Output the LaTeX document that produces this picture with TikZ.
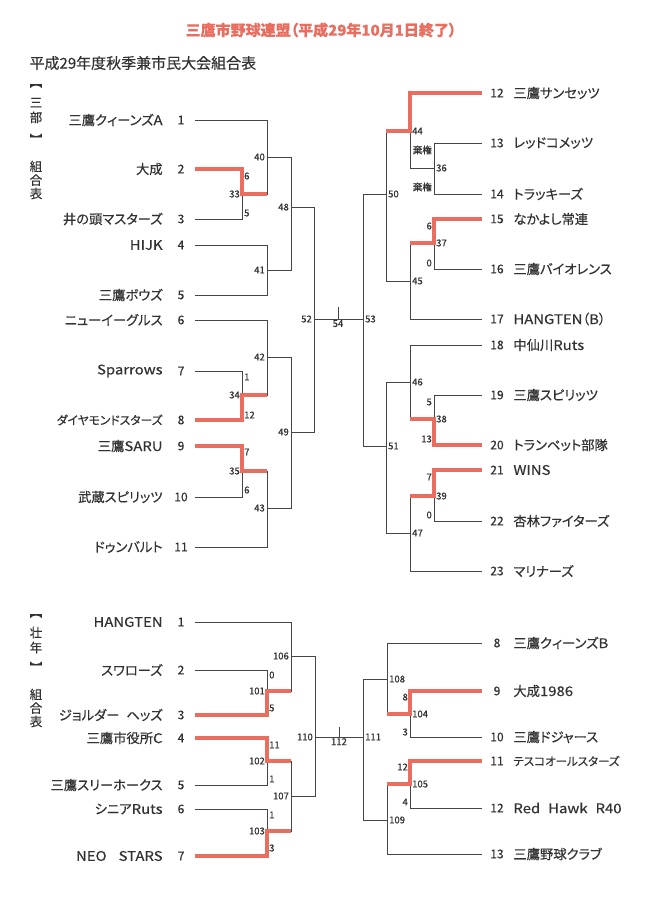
\documentclass[tikz,border=0pt]{standalone}
\usepackage{fontspec}
\setmainfont{Noto Sans CJK JP}[RawFeature=+palt,FakeBold=0.35]
\newfontfamily\latwide{Noto Sans CJK JP}[FakeStretch=1.12,FakeBold=0.35]
\usepackage{tikz}
\usetikzlibrary{positioning}
\definecolor{winred}{RGB}{234,110,96}
\definecolor{linegray}{RGB}{70,70,70}
\definecolor{textgray}{RGB}{50,50,50}

\begin{document}
\begin{tikzpicture}[x=1pt,y=-1pt,
      line/.style={draw=linegray,line width=0.8pt},
      win/.style={draw=winred,line width=3.6pt},
      team/.style={text=textgray,inner sep=0pt,font=\fontsize{13.3}{14}\selectfont},
      num/.style={text=textgray,inner sep=0pt,minimum width=28pt,font=\fontsize{12}{13}\selectfont},
      rnum/.style={num,minimum width=30pt},
      score/.style={text=textgray,inner sep=1pt,font=\fontsize{9.5}{10}\selectfont},
      mlab/.style={score,inner sep=2pt},
      side/.style={text=textgray,align=center,inner sep=0pt,font=\fontsize{12.5}{15}\selectfont}]
      \fill[white] (0,0) rectangle (666,902);
      \useasboundingbox (0,0) rectangle (666,902);

      \node[text=winred,font=\fontsize{15}{16}\selectfont\bfseries] (title) at (321,30) {三鷹市野球連盟（平成29年10月1日終了）};
      \node[anchor=west,text=textgray,font=\fontsize{15}{16}\selectfont] (sub) at (26,63) {平成29年度秋季兼市民大会組合表};

      % side labels
      \node[side] (v_1a) at (36,86) {︻};
      \node[side] (v_1) at (36,110.5) {三\\部};
      \node[side] (v_1b) at (36,139) {︼};
      \node[side,font=\fontsize{12.5}{13.5}\selectfont] (v_2) at (36,180) {組\\合\\表};
      \node[side] (v_3a) at (36,616) {︻};
      \node[side] (v_3) at (36,640) {壮\\年};
      \node[side] (v_3b) at (36,667) {︼};
      \node[side,font=\fontsize{12.5}{13.5}\selectfont] (v_4) at (36,708) {組\\合\\表};

      % teams, upper left
      \node[num] (a_1) at (181,120) {1};  \node[team,left=4pt of a_1] (n_1) {三鷹クィーンズ{\latwide A}};
      \node[num] (a_2) at (181,169) {2};  \node[team,left=4pt of a_2] (n_2) {大成};
      \node[num] (a_3) at (181,219) {3};  \node[team,left=4pt of a_3] (n_3) {井の頭マスターズ};
      \node[num] (a_4) at (181,245) {4};  \node[team,left=4pt of a_4] (n_4) {\latwide HIJK};
      \node[num] (a_5) at (181,295) {5};  \node[team,left=4pt of a_5] (n_5) {三鷹ボウズ};
      \node[num] (a_6) at (181,320) {6};  \node[team,left=4pt of a_6] (n_6) {ニューイーグルス};
      \node[num] (a_7) at (181,371) {7};  \node[team,left=4pt of a_7] (n_7) {\latwide Sparrows};
      \node[num] (a_8) at (181,420) {8};  \node[team,left=4pt of a_8,font=\fontsize{11.8}{12}\selectfont] (n_8) {ダイヤモンドスターズ};
      \node[num] (a_9) at (181,446) {9};  \node[team,left=4pt of a_9] (n_9) {三鷹{\latwide SARU}};
      \node[num] (a_10) at (181,497) {10}; \node[team,left=4pt of a_10] (n_10) {武蔵スピリッツ};
      \node[num] (a_11) at (181,547) {11}; \node[team,left=4pt of a_11] (n_11) {ドゥンバルト};

      % teams, upper right
      \node[rnum] (a_12) at (497,93) {12};  \node[team,right=1pt of a_12] (n_12) {三鷹サンセッツ};
      \node[rnum] (a_13) at (497,143) {13}; \node[team,right=1pt of a_13] (n_13) {レッドコメッツ};
      \node[rnum] (a_14) at (497,194) {14}; \node[team,right=1pt of a_14] (n_14) {トラッキーズ};
      \node[rnum] (a_15) at (497,219) {15}; \node[team,right=1pt of a_15] (n_15) {なかよし常連};
      \node[rnum] (a_16) at (497,269) {16}; \node[team,right=1pt of a_16] (n_16) {三鷹バイオレンス};
      \node[rnum] (a_17) at (497,319) {17}; \node[team,right=1pt of a_17] (n_17) {{\latwide HANGTEN}（{\latwide B}）};
      \node[rnum] (a_18) at (497,345) {18}; \node[team,right=1pt of a_18] (n_18) {中仙川{\latwide Ruts}};
      \node[rnum] (a_19) at (497,395) {19}; \node[team,right=1pt of a_19] (n_19) {三鷹スピリッツ};
      \node[rnum] (a_20) at (497,445) {20}; \node[team,right=1pt of a_20] (n_20) {トランペット部隊};
      \node[rnum] (a_21) at (497,470) {21}; \node[team,right=1pt of a_21] (n_21) {\latwide WINS};
      \node[rnum] (a_22) at (497,521) {22}; \node[team,right=1pt of a_22] (n_22) {杏林ファイターズ};
      \node[rnum] (a_23) at (497,571) {23}; \node[team,right=1pt of a_23] (n_23) {マリナーズ};

      % teams, lower left
      \node[num] (b_1) at (181,622) {1}; \node[team,left=4pt of b_1] (p_1) {\latwide HANGTEN};
      \node[num] (b_2) at (181,670) {2}; \node[team,left=4pt of b_2] (p_2) {スワローズ};
      \node[num] (b_3) at (181,715) {3}; \node[team,left=4pt of b_3] (p_3) {ジョルダー\hspace{7pt}ヘッズ};
      \node[num] (b_4) at (181,738) {4}; \node[team,left=4pt of b_4] (p_4) {三鷹市役所{\latwide C}};
      \node[num] (b_5) at (181,785) {5}; \node[team,left=4pt of b_5] (p_5) {三鷹スリーホークス};
      \node[num] (b_6) at (181,809) {6}; \node[team,left=4pt of b_6] (p_6) {シニア{\latwide Ruts}};
      \node[num] (b_7) at (181,856) {7}; \node[team,left=4pt of b_7] (p_7) {\latwide NEO\hspace{12pt}STARS};

      % teams, lower right
      \node[rnum] (b_8) at (497,643) {8};   \node[team,right=1pt of b_8] (p_8) {三鷹クィーンズ{\latwide B}};
      \node[rnum] (b_9) at (497,691) {9};   \node[team,right=1pt of b_9] (p_9) {大成{\latwide 1986}};
      \node[rnum] (b_10) at (497,737) {10}; \node[team,right=1pt of b_10] (p_10) {三鷹ドジャース};
      \node[rnum] (b_11) at (497,761) {11}; \node[team,right=1pt of b_11,font=\fontsize{11.5}{12}\selectfont] (p_11) {テスコオールスターズ};
      \node[rnum] (b_12) at (497,808) {12}; \node[team,right=1pt of b_12] (p_12) {\latwide Red\hspace{8pt}Hawk\hspace{8pt}R40};
      \node[rnum] (b_13) at (497,854) {13}; \node[team,right=1pt of b_13] (p_13) {三鷹野球クラブ};

      % match points
      \coordinate (m_33) at (242,194);  \coordinate (m_40) at (267,157);
      \coordinate (m_41) at (267,270);  \coordinate (m_48) at (291,207);
      \coordinate (m_34) at (242,395);  \coordinate (m_42) at (267,357);
      \coordinate (m_35) at (242,471);  \coordinate (m_43) at (267,508);
      \coordinate (m_49) at (291,432);  \coordinate (m_52) at (314,319);
      \coordinate (m_36) at (434,168);  \coordinate (m_44) at (410,131);
      \coordinate (m_37) at (434,243);  \coordinate (m_45) at (410,281);
      \coordinate (m_50) at (386,194);  \coordinate (m_38) at (434,419);
      \coordinate (m_46) at (410,382);  \coordinate (m_39) at (434,496);
      \coordinate (m_47) at (410,533);  \coordinate (m_51) at (386,446);
      \coordinate (m_53) at (363,319);  \coordinate (m_54) at (338,319);
      \coordinate (m_54t) at (338,307);
      \coordinate (m_101) at (267,691); \coordinate (m_106) at (291,656);
      \coordinate (m_102) at (267,761); \coordinate (m_103) at (267,831);
      \coordinate (m_107) at (291,796); \coordinate (m_110) at (315,737);
      \coordinate (m_104) at (410,714); \coordinate (m_108) at (387,679);
      \coordinate (m_105) at (410,784); \coordinate (m_109) at (387,820);
      \coordinate (m_111) at (363,737); \coordinate (m_112) at (339,737);
      \coordinate (m_112t) at (339,727);

      % bracket lines
      \path[line]
      (a_1.east) -| (m_40)  (a_2.east) -| (m_33)  (a_3.east) -| (m_33)
      (a_4.east) -| (m_41)  (a_5.east) -| (m_41)  (m_33) -| (m_40)
      (m_40) -| (m_48)  (m_41) -| (m_48)  (m_48) -| (m_52)
      (a_6.east) -| (m_42)  (a_7.east) -| (m_34)  (a_8.east) -| (m_34)
      (a_9.east) -| (m_35)  (a_10.east) -| (m_35)  (a_11.east) -| (m_43)
      (m_34) -| (m_42)  (m_35) -| (m_43)  (m_42) -| (m_49)  (m_43) -| (m_49)
      (m_49) -| (m_52)  (m_52) -- (m_53)  (m_54) -- (m_54t)
      (a_12.west) -| (m_44)  (a_13.west) -| (m_36)  (a_14.west) -| (m_36)
      (a_15.west) -| (m_37)  (a_16.west) -| (m_37)  (a_17.west) -| (m_45)
      (m_36) -| (m_44)  (m_37) -| (m_45)  (m_44) -| (m_50)  (m_45) -| (m_50)
      (a_18.west) -| (m_46)  (a_19.west) -| (m_38)  (a_20.west) -| (m_38)
      (a_21.west) -| (m_39)  (a_22.west) -| (m_39)  (a_23.west) -| (m_47)
      (m_38) -| (m_46)  (m_39) -| (m_47)  (m_46) -| (m_51)  (m_47) -| (m_51)
      (m_50) -| (m_53)  (m_51) -| (m_53);
      \path[line]
      (b_1.east) -| (m_106)  (b_2.east) -| (m_101)  (b_3.east) -| (m_101)
      (b_4.east) -| (m_102)  (b_5.east) -| (m_102)  (b_6.east) -| (m_103)
      (b_7.east) -| (m_103)  (m_101) -| (m_106)  (m_102) -| (m_107)
      (m_103) -| (m_107)  (m_106) -| (m_110)  (m_107) -| (m_110)
      (b_8.west) -| (m_108)  (b_9.west) -| (m_104)  (b_10.west) -| (m_104)
      (b_11.west) -| (m_105)  (b_12.west) -| (m_105)  (b_13.west) -| (m_109)
      (m_104) -| (m_108)  (m_105) -| (m_109)  (m_108) -| (m_111)  (m_109) -| (m_111)
      (m_110) -- (m_111)  (m_112) -- (m_112t);

      % winners
      \draw[win] (a_2.east) -| (m_33) -- (m_33 -| m_40);
      \draw[win] (a_8.east) -| (m_34) -- (m_34 -| m_42);
      \draw[win] (a_9.east) -| (m_35) -- (m_35 -| m_43);
      \draw[win] (a_12.west) -| (m_44) -- (m_44 -| m_50);
      \draw[win] (a_15.west) -| (m_37) -- (m_37 -| m_45);
      \draw[win] (a_20.west) -| (m_38) -- (m_38 -| m_46);
      \draw[win] (a_21.west) -| (m_39) -- (m_39 -| m_47);
      \draw[win] (b_3.east) -| (m_101) -- (m_101 -| m_106);
      \draw[win] (b_4.east) -| (m_102) -- (m_102 -| m_107);
      \draw[win] (b_7.east) -| (m_103) -- (m_103 -| m_107);
      \draw[win] (b_9.west) -| (m_104) -- (m_104 -| m_108);
      \draw[win] (b_11.west) -| (m_105) -- (m_105 -| m_109);

      % match numbers
      \node[mlab,left] (l_33) at (m_33) {33};   \node[mlab,left] (l_40) at (m_40) {40};
      \node[mlab,left] (l_41) at (m_41) {41};   \node[mlab,left] (l_48) at (m_48) {48};
      \node[mlab,left] (l_34) at (m_34) {34};   \node[mlab,left] (l_42) at (m_42) {42};
      \node[mlab,left] (l_35) at (m_35) {35};   \node[mlab,left] (l_43) at (m_43) {43};
      \node[mlab,left] (l_49) at (m_49) {49};   \node[mlab,left] (l_52) at (m_52) {52};
      \node[mlab,right] (l_36) at (m_36) {36};  \node[mlab,right] (l_44) at (m_44) {44};
      \node[mlab,right] (l_37) at (m_37) {37};  \node[mlab,right] (l_45) at (m_45) {45};
      \node[mlab,right] (l_50) at (m_50) {50};  \node[mlab,right] (l_38) at (m_38) {38};
      \node[mlab,right] (l_46) at (m_46) {46};  \node[mlab,right] (l_39) at (m_39) {39};
      \node[mlab,right] (l_47) at (m_47) {47};  \node[mlab,right] (l_51) at (m_51) {51};
      \node[mlab,right] (l_53) at (m_53) {53};  \node[mlab,below,inner sep=1pt] (l_54) at (m_54) {54};
      \node[mlab,left] (l_101) at (m_101) {101}; \node[mlab,left] (l_106) at (m_106) {106};
      \node[mlab,left] (l_102) at (m_102) {102}; \node[mlab,left] (l_103) at (m_103) {103};
      \node[mlab,left] (l_107) at (m_107) {107}; \node[mlab,left] (l_110) at (m_110) {110};
      \node[mlab,right] (l_104) at (m_104) {104}; \node[mlab,right] (l_108) at (m_108) {108};
      \node[mlab,right] (l_105) at (m_105) {105}; \node[mlab,right] (l_109) at (m_109) {109};
      \node[mlab,right] (l_111) at (m_111) {111}; \node[mlab,below,inner sep=1pt] (l_112) at (m_112) {112};

      % scores
      \node[score,right] (s_33a) at (243,176) {6};  \node[score,right] (s_33b) at (243,213) {5};
      \node[score,right] (s_34a) at (243,377) {1};  \node[score,right] (s_34b) at (243,415) {12};
      \node[score,right] (s_35a) at (243,452) {7};  \node[score,right] (s_35b) at (243,490) {6};
      \node[score,left] (s_36a) at (433,150) {棄権}; \node[score,left] (s_36b) at (433,187) {棄権};
      \node[score,left] (s_37a) at (433,226) {6};   \node[score,left] (s_37b) at (433,263) {0};
      \node[score,left] (s_38a) at (433,402) {5};   \node[score,left] (s_38b) at (433,439) {13};
      \node[score,left] (s_39a) at (433,477) {7};   \node[score,left] (s_39b) at (433,515) {0};
      \node[score,right] (s_101a) at (268,675) {0}; \node[score,right] (s_101b) at (268,708) {5};
      \node[score,right] (s_102a) at (268,745) {11}; \node[score,right] (s_102b) at (268,779) {1};
      \node[score,right] (s_103a) at (268,815) {1}; \node[score,right] (s_103b) at (268,848) {3};
      \node[score,left] (s_104a) at (409,697) {8};  \node[score,left] (s_104b) at (409,732) {3};
      \node[score,left] (s_105a) at (409,767) {12}; \node[score,left] (s_105b) at (409,802) {4};
\end{tikzpicture}
\end{document}
